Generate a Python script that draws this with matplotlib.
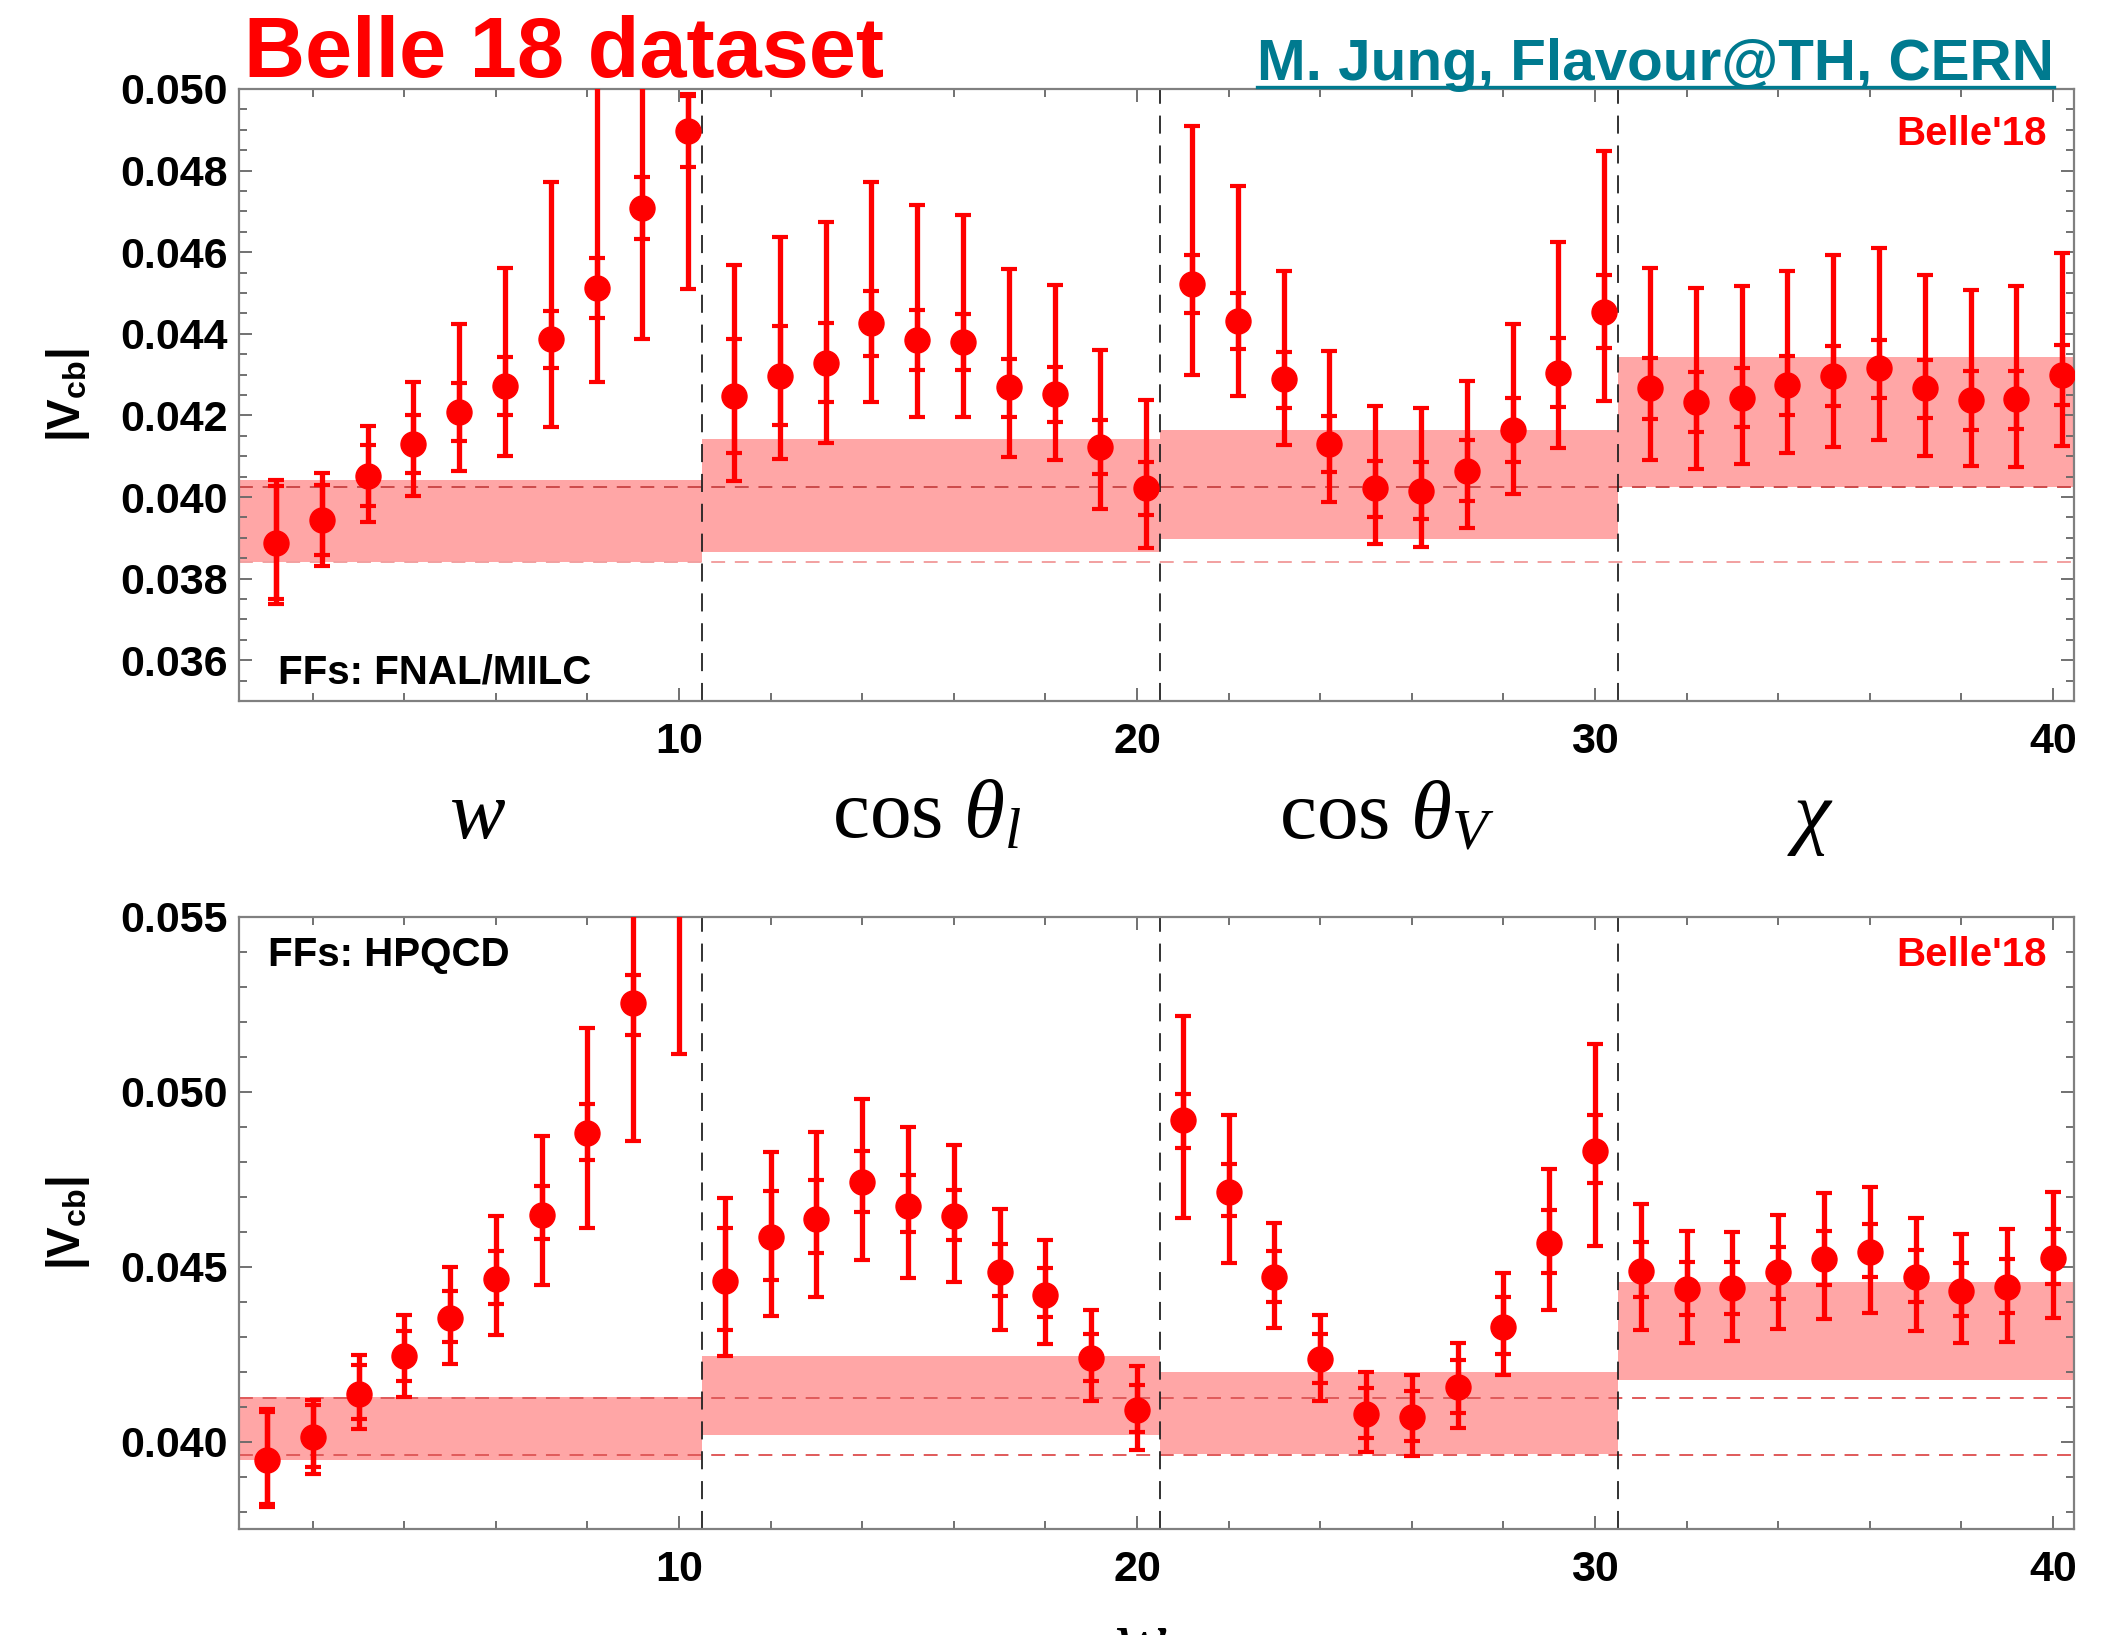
import numpy as np
import matplotlib
matplotlib.use("Agg")
import matplotlib.pyplot as plt
from matplotlib.lines import Line2D
from matplotlib.ticker import MultipleLocator, FormatStrFormatter
from matplotlib.transforms import blended_transform_factory

plt.rcParams["font.family"] = ["Liberation Sans", "DejaVu Sans"]
plt.rcParams["font.weight"] = "bold"
plt.rcParams["mathtext.fontset"] = "custom"
plt.rcParams["mathtext.rm"] = "Liberation Serif:weight=normal"
plt.rcParams["mathtext.it"] = "Liberation Serif:italic:weight=normal"
plt.rcParams["mathtext.bf"] = "Liberation Sans:bold"
plt.rcParams["lines.scale_dashes"] = False

# 40 bins: 10 each for w, cos(theta_l), cos(theta_V), chi
bins = np.arange(1, 41)
segment_edges = [0.39, 10.5, 20.5, 30.5, 40.46]
variables = [r"$w$", r"$\cos\,\theta_l$", r"$\cos\,\theta_V$", r"$\chi$"]
variable_x = [5.6, 15.4, 25.45, 34.7]

# |Vcb| per bin, FFs from FNAL/MILC (drawn shifted by +0.2)
milc_center = [0.03888, 0.03943, 0.04051, 0.04129, 0.04209, 0.04272, 0.04387, 0.04512, 0.04708, 0.04896,
               0.04248, 0.04297, 0.04329, 0.04427, 0.04385, 0.04381, 0.04269, 0.04252, 0.04123, 0.04021,
               0.04522, 0.04432, 0.04289, 0.04131, 0.04021, 0.04015, 0.04064, 0.04164, 0.04305, 0.04454,
               0.04266, 0.04234, 0.04243, 0.04275, 0.04297, 0.04315, 0.04266, 0.04238, 0.04239, 0.04299]
milc_in_lo = [0.03751, 0.03857, 0.03978, 0.04058, 0.04137, 0.04201, 0.04316, 0.04438, 0.04632, 0.04808,
              0.04108, 0.04176, 0.04234, 0.04346, 0.04311, 0.04311, 0.04197, 0.04184, 0.04056, 0.03956,
              0.04450, 0.04362, 0.04219, 0.04062, 0.03951, 0.03945, 0.03991, 0.04086, 0.04221, 0.04365,
              0.04190, 0.04160, 0.04172, 0.04202, 0.04224, 0.04242, 0.04194, 0.04165, 0.04167, 0.04226]
milc_in_hi = [0.04027, 0.04029, 0.04127, 0.04201, 0.04279, 0.04344, 0.04457, 0.04585, 0.04784, 0.04984,
              0.04387, 0.04418, 0.04426, 0.04506, 0.04459, 0.04449, 0.04338, 0.04318, 0.04189, 0.04085,
              0.04593, 0.04501, 0.04356, 0.04199, 0.04089, 0.04085, 0.04140, 0.04243, 0.04389, 0.04544,
              0.04340, 0.04307, 0.04316, 0.04346, 0.04369, 0.04385, 0.04336, 0.04309, 0.04310, 0.04373]
milc_out_lo = [0.03737, 0.03830, 0.03939, 0.04002, 0.04064, 0.04100, 0.04171, 0.04283, 0.04387, 0.04509,
               0.04040, 0.04093, 0.04133, 0.04234, 0.04197, 0.04197, 0.04097, 0.04091, 0.03970, 0.03874,
               0.04299, 0.04248, 0.04127, 0.03988, 0.03884, 0.03878, 0.03923, 0.04007, 0.04121, 0.04235,
               0.04091, 0.04068, 0.04082, 0.04107, 0.04122, 0.04140, 0.04100, 0.04077, 0.04074, 0.04125]
milc_out_hi = [0.04041, 0.04059, 0.04174, 0.04283, 0.04424, 0.04562, 0.04773, 0.05150, 0.05250, 0.04988,
               0.04569, 0.04637, 0.04673, 0.04771, 0.04716, 0.04692, 0.04560, 0.04520, 0.04360, 0.04238,
               0.04910, 0.04763, 0.04555, 0.04359, 0.04223, 0.04217, 0.04285, 0.04424, 0.04624, 0.04849,
               0.04562, 0.04512, 0.04516, 0.04554, 0.04593, 0.04611, 0.04544, 0.04508, 0.04517, 0.04598]
milc_band_lo = [0.03841, 0.03865, 0.03897, 0.04024]
milc_band_hi = [0.04041, 0.04141, 0.04164, 0.04344]
milc_ref = [0.04024, 0.03841]

# |Vcb| per bin, FFs from HPQCD
hpqcd_center = [0.03946, 0.04012, 0.04136, 0.04244, 0.04354, 0.04465, 0.04649, 0.04882, 0.05254, 0.05650,
                0.04458, 0.04586, 0.04637, 0.04742, 0.04675, 0.04644, 0.04486, 0.04420, 0.04238, 0.04091,
                0.04919, 0.04715, 0.04470, 0.04235, 0.04078, 0.04069, 0.04155, 0.04329, 0.04569, 0.04832,
                0.04489, 0.04435, 0.04439, 0.04486, 0.04523, 0.04542, 0.04471, 0.04430, 0.04441, 0.04526]
hpqcd_in_lo = [0.03822, 0.03926, 0.04065, 0.04172, 0.04284, 0.04394, 0.04578, 0.04804, 0.05164, 0.05560,
               0.04318, 0.04461, 0.04540, 0.04656, 0.04599, 0.04575, 0.04416, 0.04356, 0.04174, 0.04028,
               0.04839, 0.04644, 0.04400, 0.04168, 0.04011, 0.04003, 0.04083, 0.04251, 0.04483, 0.04738,
               0.04414, 0.04363, 0.04366, 0.04409, 0.04449, 0.04471, 0.04398, 0.04359, 0.04368, 0.04451]
hpqcd_in_hi = [0.04084, 0.04106, 0.04220, 0.04316, 0.04430, 0.04544, 0.04730, 0.04966, 0.05335, 0.05740,
               0.04611, 0.04716, 0.04747, 0.04831, 0.04761, 0.04720, 0.04564, 0.04496, 0.04309, 0.04161,
               0.04994, 0.04793, 0.04544, 0.04307, 0.04152, 0.04144, 0.04233, 0.04414, 0.04662, 0.04935,
               0.04572, 0.04513, 0.04513, 0.04556, 0.04601, 0.04622, 0.04547, 0.04510, 0.04523, 0.04608]
hpqcd_out_lo = [0.03812, 0.03907, 0.04036, 0.04127, 0.04222, 0.04305, 0.04448, 0.04610, 0.04859, 0.05109,
                0.04244, 0.04358, 0.04413, 0.04518, 0.04467, 0.04456, 0.04320, 0.04280, 0.04115, 0.03976,
                0.04638, 0.04512, 0.04325, 0.04117, 0.03969, 0.03960, 0.04038, 0.04190, 0.04375, 0.04560,
                0.04318, 0.04281, 0.04288, 0.04323, 0.04350, 0.04368, 0.04315, 0.04281, 0.04286, 0.04352]
hpqcd_out_hi = [0.04094, 0.04120, 0.04248, 0.04362, 0.04499, 0.04644, 0.04875, 0.05184, 0.05800, 0.06200,
                0.04697, 0.04828, 0.04885, 0.04980, 0.04899, 0.04847, 0.04666, 0.04577, 0.04375, 0.04216,
                0.05217, 0.04935, 0.04624, 0.04361, 0.04198, 0.04190, 0.04281, 0.04481, 0.04780, 0.05136,
                0.04678, 0.04603, 0.04598, 0.04649, 0.04710, 0.04729, 0.04638, 0.04593, 0.04609, 0.04713]
hpqcd_band_lo = [0.03946, 0.04020, 0.03964, 0.04176]
hpqcd_band_hi = [0.04127, 0.04245, 0.04200, 0.04457]
hpqcd_ref = [0.04126, 0.03962]

RED = "#ff0000"
BAND = "#ffa6a6"
FRAME = "#808080"
TEAL = "#007a8f"

W, H = 2126, 1635
fig = plt.figure(figsize=(W / 100, H / 100), dpi=100)
ax_top = fig.add_axes([239 / W, 1 - 701 / H, 1835 / W, 612 / H])
ax_bot = fig.add_axes([239 / W, 1 - 1529 / H, 1835 / W, 612 / H])


def draw_panel(ax, x, center, in_lo, in_hi, out_lo, out_hi,
               band_lo, band_hi, ref, ref_colors):
    center = np.asarray(center)
    for i in range(4):
        ax.fill_between([segment_edges[i], segment_edges[i + 1]],
                        band_lo[i], band_hi[i], color=BAND, lw=0, zorder=1)
    for y, c in zip(ref, ref_colors):
        ax.axhline(y, color=c, lw=1.4, dashes=(10, 7), zorder=2)
    for xe in segment_edges[1:-1]:
        ax.axvline(xe, color="#222222", lw=1.3, dashes=(13, 8.5), zorder=2)

    # outer (total) errors with caps
    ax.errorbar(x, center,
                yerr=[center - np.asarray(out_lo), np.asarray(out_hi) - center],
                fmt="none", ecolor=RED, elinewidth=3.8, capsize=6, capthick=3,
                zorder=3)
    # inner errors as tick marks on the same bar
    ax.errorbar(x, center,
                yerr=[center - np.asarray(in_lo), np.asarray(in_hi) - center],
                fmt="o", color=RED, ms=18, elinewidth=3.8, capsize=6,
                capthick=3, zorder=4)

    ax.set_xlim(segment_edges[0], segment_edges[-1])
    ax.xaxis.set_major_locator(MultipleLocator(10))
    ax.xaxis.set_minor_locator(MultipleLocator(2))
    ax.yaxis.set_major_formatter(FormatStrFormatter("%.3f"))
    ax.tick_params(which="both", direction="in", top=True, right=True,
                   color="#666666", width=1.3)
    ax.tick_params(which="major", length=9.5)
    ax.tick_params(which="minor", length=5.5)
    ax.tick_params(axis="x", labelsize=31, pad=15)
    ax.tick_params(axis="y", labelsize=31, pad=8)
    for s in ax.spines.values():
        s.set_color(FRAME)
        s.set_linewidth(1.6)
    ax.set_ylabel(r"|V$_{\mathbf{cb}}$|", fontsize=33, fontweight="bold")
    ax.yaxis.set_label_coords(-0.08, 0.5)


draw_panel(ax_top, bins + 0.2, milc_center, milc_in_lo, milc_in_hi,
           milc_out_lo, milc_out_hi, milc_band_lo, milc_band_hi,
           milc_ref, ["#cc4a4a", "#f2a0a0"])
ax_top.set_ylim(0.035, 0.050)
ax_top.yaxis.set_major_locator(MultipleLocator(0.002))
ax_top.yaxis.set_minor_locator(MultipleLocator(0.0005))

draw_panel(ax_bot, bins, hpqcd_center, hpqcd_in_lo, hpqcd_in_hi,
           hpqcd_out_lo, hpqcd_out_hi, hpqcd_band_lo, hpqcd_band_hi,
           hpqcd_ref, ["#e05a5a", "#e05a5a"])
ax_bot.set_ylim(0.0375, 0.055)
ax_bot.yaxis.set_major_locator(MultipleLocator(0.005))
ax_bot.yaxis.set_minor_locator(MultipleLocator(0.001))

ax_top.text(0.985, 0.908, "Belle'18", transform=ax_top.transAxes,
            ha="right", va="baseline", fontsize=29, color=RED)
ax_bot.text(0.985, 0.92, "Belle'18", transform=ax_bot.transAxes,
            ha="right", va="baseline", fontsize=29, color=RED)
ax_top.text(0.021, 0.029, "FFs: FNAL/MILC", transform=ax_top.transAxes,
            ha="left", va="baseline", fontsize=29)
ax_bot.text(0.016, 0.920, "FFs: HPQCD", transform=ax_bot.transAxes,
            ha="left", va="baseline", fontsize=29)

# kinematic variable names between the panels
trans = blended_transform_factory(ax_top.transData, fig.transFigure)
for label, xv in zip(variables, variable_x):
    fig.text(xv, 1 - 838 / H, label, transform=trans, ha="center",
             va="baseline", fontsize=60)
fig.text(1141 / W, -0.0175, r"$w$", ha="center", va="baseline", fontsize=56)

fig.text(244 / W, 1 - 77 / H, "Belle 18 dataset", ha="left", va="baseline",
         fontsize=61, color=RED)
author = fig.text(2054 / W, 1 - 80 / H, "M. Jung, Flavour@TH, CERN",
                  ha="right", va="baseline", fontsize=42, color=TEAL)

fig.canvas.draw()
bb = author.get_window_extent()
y_ul = 1 - 87 / H
fig.add_artist(Line2D([bb.x0 / W, bb.x1 / W], [y_ul, y_ul],
                      transform=fig.transFigure, color=TEAL, lw=2.4))

fig.savefig("out.png", dpi=100)
